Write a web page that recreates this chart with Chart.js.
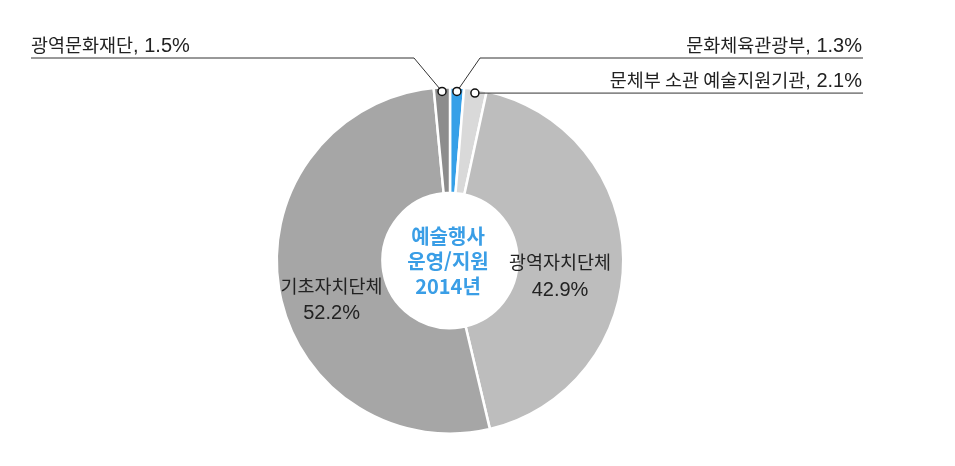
<!DOCTYPE html>
<html lang="ko">
<head>
  <meta charset="UTF-8">
  <title>예술행사 운영/지원 2014년</title>
  <script src="https://cdn.jsdelivr.net/npm/chart.js"></script>
  <style>
    html, body { margin: 0; padding: 0; background: #fff; }
    #wrap { width: 955px; height: 466px; }
  </style>
</head>
<body>
  <div id="wrap"><canvas id="pie"></canvas></div>

  <script>
    // data, clockwise from 12 o'clock
    const labels = ['문화체육관광부', '문체부 소관 예술지원기관', '광역자치단체', '기초자치단체', '광역문화재단'];
    const shares = [1.3, 2.1, 42.9, 52.2, 1.5];
    const colors = ['#36a0e8', '#d9d9d9', '#bdbdbd', '#a6a6a6', '#8c8c8c'];
    const centerLines = ['예술행사', '운영/지원', '2014년'];

    const KO_FONT = '18.5px "Noto Sans CJK KR", sans-serif';
    const LATIN_FONT = '20px "Liberation Sans", sans-serif';
    const TITLE_FONT = 'bold 20px "Noto Sans CJK KR", sans-serif';

    // how each slice gets its label
    // inside: text in ring; callout: marker + leader line to a label above
    const labelStyle = [
      { type: 'callout', elbow: [480, 58], end: 863, align: 'right' },
      { type: 'callout', elbow: null, end: 863, align: 'right' },
      { type: 'inside', r: 110, dx: 0, dy: 17 },
      { type: 'inside', r: 118, dx: -2, dy: 20 },
      { type: 'callout', elbow: [414, 58], end: 31, align: 'left' }
    ];

    // hangul in the CJK font, digits and punctuation in the latin one
    function runs(str) {
      const out = [];
      for (const ch of str) {
        const ko = /[\uac00-\ud7a3]/.test(ch) || (ch === ' ' && out.length && out[out.length - 1].ko);
        if (out.length && out[out.length - 1].ko === ko) out[out.length - 1].t += ch;
        else out.push({ t: ch, ko: ko });
      }
      return out;
    }

    function drawMixed(ctx, str, x, y, align) {
      const parts = runs(str);
      let w = 0;
      parts.forEach(p => { ctx.font = p.ko ? KO_FONT : LATIN_FONT; p.w = ctx.measureText(p.t).width; w += p.w; });
      let cx = align === 'right' ? x - w : align === 'center' ? x - w / 2 : x;
      ctx.textAlign = 'left';
      parts.forEach(p => {
        ctx.font = p.ko ? KO_FONT : LATIN_FONT;
        ctx.fillText(p.t, cx, y);
        cx += p.w;
      });
    }

    const pieLabels = {
      id: 'pieLabels',
      afterDatasetsDraw(chart) {
        const ctx = chart.ctx;
        const arcs = chart.getDatasetMeta(0).data;
        ctx.save();
        ctx.fillStyle = '#222';
        arcs.forEach((arc, i) => {
          const st = labelStyle[i];
          const mid = (arc.startAngle + arc.endAngle) / 2;
          if (st.type === 'inside') {
            const x = arc.x + Math.cos(mid) * st.r + st.dx;
            const y = arc.y + Math.sin(mid) * st.r + st.dy;
            ctx.fillStyle = '#222';
            ctx.textBaseline = 'middle';
            drawMixed(ctx, labels[i], x, y - 14, 'center');
            drawMixed(ctx, shares[i].toFixed(1) + '%', x, y + 14, 'center');
            return;
          }
          // marker near the outer edge
          const r = arc.outerRadius - 4;
          const mx = arc.x + Math.cos(mid) * r;
          const my = arc.y + Math.sin(mid) * r;
          const lineY = st.elbow ? st.elbow[1] : my;
          ctx.strokeStyle = '#333';
          ctx.lineWidth = 1;
          ctx.beginPath();
          ctx.moveTo(mx, my);
          if (st.elbow) ctx.lineTo(st.elbow[0], st.elbow[1]);
          ctx.lineTo(st.end, lineY);
          ctx.stroke();

          ctx.beginPath();
          ctx.arc(mx, my, 4, 0, Math.PI * 2);
          ctx.fillStyle = '#fff';
          ctx.fill();
          ctx.lineWidth = 1.5;
          ctx.strokeStyle = '#111';
          ctx.stroke();

          ctx.fillStyle = '#222';
          ctx.textBaseline = 'alphabetic';
          const text = labels[i] + ', ' + shares[i].toFixed(1) + '%';
          drawMixed(ctx, text, st.align === 'right' ? st.end - 1 : st.end, lineY - 6, st.align);
        });

        // centre title
        const c = arcs[0];
        ctx.fillStyle = '#3a9ee6';
        ctx.font = TITLE_FONT;
        ctx.textAlign = 'center';
        ctx.textBaseline = 'middle';
        centerLines.forEach((t, k) => ctx.fillText(t, c.x - 2, c.y - 24 + k * 25));
        ctx.restore();
      }
    };

    new Chart(document.getElementById('pie'), {
      type: 'doughnut',
      data: {
        labels: labels,
        datasets: [{
          data: shares,
          backgroundColor: colors,
          borderColor: '#fff',
          borderWidth: 2.5
        }]
      },
      options: {
        responsive: true,
        maintainAspectRatio: false,
        animation: false,
        cutout: '39%',
        rotation: 0,
        layout: { padding: { top: 86, bottom: 31, left: 0, right: 55 } },
        plugins: {
          legend: { display: false },
          tooltip: { enabled: false }
        }
      },
      plugins: [pieLabels]
    });
  </script>
</body>
</html>
